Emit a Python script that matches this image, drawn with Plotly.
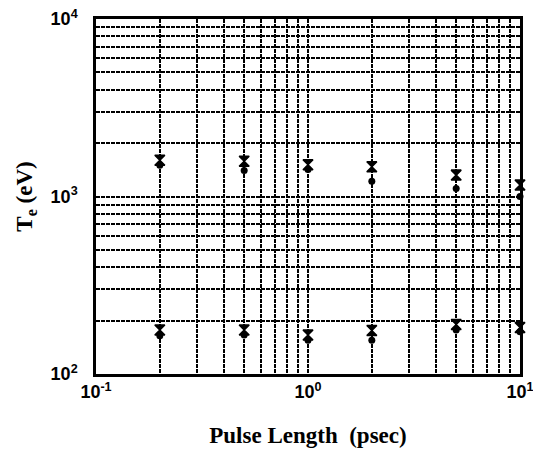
import plotly.graph_objects as go

# Pulse lengths (psec)
pulse_ps = [0.2, 0.5, 1.0, 2.0, 5.0, 10.0]

# Hot-electron temperature branch (eV)
te_hot_x = [1600, 1580, 1510, 1470, 1320, 1160]
te_hot_dot = [1500, 1400, 1420, 1220, 1110, 1000]

# Cold-electron temperature branch (eV)
te_cold_x = [177, 177, 166, 176, 190, 183]
te_cold_dot = [164, 166, 155, 155, 177, 173]

x_tick_vals = [0.1, 1, 10]
x_tick_text = ["10<sup>-1</sup>", "10<sup>0</sup>", "10<sup>1</sup>"]
y_tick_vals = [100, 1000, 10000]
y_tick_text = ["10<sup>2</sup>", "10<sup>3</sup>", "10<sup>4</sup>"]

tick_font = dict(family="Liberation Sans, Arial, sans-serif", size=18,
                 color="black", weight="bold")
title_font = dict(family="Liberation Serif, Times New Roman, serif", size=23,
                  color="black", weight="bold")

fig = go.Figure()

for ys in (te_hot_dot, te_cold_dot):
    fig.add_trace(go.Scatter(
        x=pulse_ps, y=ys, mode="markers",
        marker=dict(symbol="circle", size=7, color="black"),
        showlegend=False, cliponaxis=False))

for ys in (te_hot_x, te_cold_x):
    fig.add_trace(go.Scatter(
        x=pulse_ps, y=ys, mode="markers",
        marker=dict(symbol="hourglass", size=10, color="black",
                    line=dict(width=1.5, color="black")),
        showlegend=False, cliponaxis=False))

grid_style = dict(showgrid=True, gridcolor="black", gridwidth=1.5,
                  griddash="4px,1px")

fig.update_xaxes(
    type="log", range=[-1, 1],
    tickmode="array", tickvals=x_tick_vals, ticktext=x_tick_text,
    tickfont=tick_font, ticks="", ticklabelstandoff=0,
    ticklabeloverflow="allow",
    showline=True, mirror=True, linecolor="black", linewidth=2.5,
    zeroline=False,
    minor=dict(dtick="D1", ticks="", **grid_style),
    title=dict(text="<b>Pulse Length\u00a0 (psec)</b>", font=title_font,
               standoff=26),
    automargin=False,
    **grid_style,
)
fig.update_yaxes(
    type="log", range=[2, 4],
    tickmode="array", tickvals=y_tick_vals, ticktext=y_tick_text,
    tickfont=tick_font, ticks="", ticklabelstandoff=12,
    ticklabeloverflow="allow",
    showline=True, mirror=True, linecolor="black", linewidth=2.5,
    zeroline=False,
    minor=dict(dtick="D1", ticks="", **grid_style),
    title=dict(text="<b>T<sub>e</sub> (eV)</b>", font=title_font,
               standoff=12),
    automargin=False,
    **grid_style,
)

fig.update_layout(
    width=533, height=453,
    margin=dict(l=96, r=13, t=19, b=79),
    paper_bgcolor="white", plot_bgcolor="white",
)

fig.write_html("out.html")
